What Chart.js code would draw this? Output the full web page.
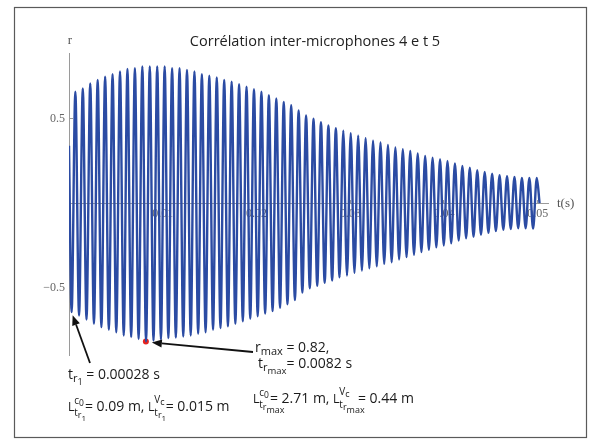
<!DOCTYPE html>
<html lang="fr">
<head>
  <meta charset="UTF-8">
  <title>Corrélation inter-microphones</title>
  <style>
    html, body { margin: 0; padding: 0; background: #fff; }
    #chartContainer { width: 598px; height: 446px; position: relative; }
  </style>
</head>
<body>
  <div id="chartContainer">
    <canvas id="corrChart"></canvas>
  </div>

  <script src="https://cdn.jsdelivr.net/npm/chart.js"></script>
  <script>
    // Values
    // signal is sampled at its extremes: first trough at t_r1, then one extreme every half period
    const tFirstTrough = 0.00028;
    const halfPeriod = 0.000397;
    const startPoint = { x: 0, y: 0.34 };
    const endPoint = { x: 0.0502, y: 0.0 };

    const troughs = [
      -0.646, -0.666, -0.69, -0.715, -0.735, -0.75, -0.765, -0.784, -0.794, -0.805,
      -0.82, -0.815, -0.808, -0.80, -0.797, -0.79, -0.784, -0.774, -0.765, -0.75,
      -0.74, -0.73, -0.715, -0.70, -0.685, -0.67, -0.655, -0.64, -0.62, -0.60,
      -0.575, -0.53, -0.505, -0.49, -0.472, -0.458, -0.44, -0.429, -0.413, -0.40,
      -0.386, -0.374, -0.36, -0.35, -0.334, -0.32, -0.306, -0.29, -0.277, -0.262,
      -0.251, -0.238, -0.222, -0.208, -0.20, -0.188, -0.176, -0.166, -0.158, -0.153,
      -0.149, -0.149, -0.15
    ];
    const peaks = [
      0.66, 0.68, 0.71, 0.73, 0.75, 0.765, 0.78, 0.795, 0.80, 0.81,
      0.81, 0.81, 0.81, 0.80, 0.80, 0.79, 0.78, 0.765, 0.755, 0.745,
      0.73, 0.72, 0.705, 0.69, 0.675, 0.66, 0.64, 0.62, 0.60, 0.58,
      0.55, 0.52, 0.50, 0.48, 0.46, 0.445, 0.43, 0.415, 0.40, 0.385,
      0.37, 0.36, 0.345, 0.33, 0.32, 0.31, 0.295, 0.28, 0.27, 0.26,
      0.25, 0.235, 0.22, 0.21, 0.195, 0.185, 0.175, 0.165, 0.16, 0.155,
      0.15, 0.15, 0.15
    ];

    const tRmax = 0.0082;
    const rMaxPoint = -0.82;

    const xTicks = [0.01, 0.02, 0.03, 0.04, 0.05];
    const xTickLabels = ['0.01', '0.02', '0.03', '0.04', '0.05'];
    const yTicks = [-0.5, 0.5];
    const yTickLabels = ['\u22120.5', '0.5'];

    const LINE_BLUE = '#2b4ba3';
    const AXIS_GREY = '#9a9a9a';
    const SANS = '"Open Sans", "Noto Sans", sans-serif';
    const SERIF = '"Liberation Serif", "DejaVu Serif", serif';

    // interleave troughs and peaks in time order
    const signal = [startPoint];
    troughs.forEach((v, i) => {
      signal.push({ x: tFirstTrough + 2 * i * halfPeriod, y: v });
      signal.push({ x: tFirstTrough + (2 * i + 1) * halfPeriod, y: peaks[i] });
    });
    signal.push(endPoint);

    // draws text with sub/superscripts, parts = {t, s, dy} or {sup:[...], sub:[...]}
    function drawRich(ctx, x, y, parts) {
      let cx = x;
      const run = (list, x0) => {
        let px = x0;
        list.forEach(p => {
          ctx.font = p.s + 'px ' + SANS;
          ctx.fillText(p.t, px, y + (p.dy || 0));
          px += ctx.measureText(p.t).width;
        });
        return px - x0;
      };
      parts.forEach(p => {
        if (p.sup || p.sub) {
          const w1 = run(p.sup, cx);
          run(p.sub, cx);
          // subscript runs on under the "=" like in the figure
          cx += w1 + 1;
        } else {
          cx += run([p], cx);
        }
      });
    }

    function arrow(ctx, x1, y1, x2, y2) {
      const a = Math.atan2(y2 - y1, x2 - x1);
      const len = 10, half = 4;
      const bx = x2 - len * Math.cos(a), by = y2 - len * Math.sin(a);
      ctx.beginPath();
      ctx.moveTo(x1, y1);
      ctx.lineTo(bx, by);
      ctx.lineWidth = 1.8;
      ctx.strokeStyle = '#111';
      ctx.stroke();
      ctx.beginPath();
      ctx.moveTo(x2, y2);
      ctx.lineTo(bx + half * Math.sin(a), by - half * Math.cos(a));
      ctx.lineTo(bx - half * Math.sin(a), by + half * Math.cos(a));
      ctx.closePath();
      ctx.fillStyle = '#111';
      ctx.fill();
    }

    const sub_tr1 = [{ t: 't', s: 10, dy: 5 }, { t: 'r', s: 9, dy: 7 }, { t: '1', s: 8, dy: 10 }];
    const sub_trmax = [{ t: 't', s: 10, dy: 5 }, { t: 'r', s: 9, dy: 7 }, { t: 'max', s: 9, dy: 10 }];
    const sup_c0 = [{ t: 'c', s: 10, dy: -7 }, { t: '0', s: 8.5, dy: -5 }];
    const sup_vc = [{ t: 'V', s: 10, dy: -8 }, { t: 'c', s: 9, dy: -6 }];

    const decorations = {
      id: 'decorations',
      beforeDraw(chart) {
        const ctx = chart.ctx;
        ctx.save();
        ctx.fillStyle = '#fff';
        ctx.fillRect(0, 0, chart.width, chart.height);
        ctx.restore();
      },
      afterDraw(chart) {
        const ctx = chart.ctx;
        const xs = chart.scales.x, ys = chart.scales.y;
        ctx.save();

        // frame
        ctx.strokeStyle = '#5a5a5a';
        ctx.lineWidth = 1.2;
        ctx.strokeRect(14.5, 7.5, 572, 430);

        // title and axis names
        ctx.fillStyle = '#222';
        ctx.textBaseline = 'alphabetic';
        ctx.textAlign = 'center';
        ctx.font = '14.5px ' + SANS;
        ctx.fillText('Corrélation inter-microphones 4 e t 5', 315, 46);
        ctx.fillStyle = '#555';
        ctx.font = '13px ' + SERIF;
        ctx.fillText('r', 70, 44);
        ctx.textAlign = 'left';
        ctx.fillText('t(s)', 557, 207);

        // arrows to the first trough and to the max point
        const p1x = xs.getPixelForValue(tFirstTrough), p1y = ys.getPixelForValue(troughs[0]);
        arrow(ctx, 90, 363, p1x + 1, p1y + 3);
        const pmx = xs.getPixelForValue(tRmax), pmy = ys.getPixelForValue(rMaxPoint);
        arrow(ctx, 253, 352, pmx + 6, pmy + 1);

        // annotations
        ctx.fillStyle = '#1a1a1a';
        ctx.textAlign = 'left';
        drawRich(ctx, 68, 379, [{ t: 't', s: 14 }, { t: 'r', s: 11, dy: 3 }, { t: '1', s: 9, dy: 6 },
          { t: ' = 0.00028 s', s: 14 }]);
        drawRich(ctx, 68, 411, [{ t: 'L', s: 12 }, { sup: sup_c0, sub: sub_tr1 }, { t: '= 0.09 m, ', s: 14 },
          { t: 'L', s: 12 }, { sup: sup_vc, sub: sub_tr1 }, { t: '= 0.015 m', s: 14 }]);
        drawRich(ctx, 255, 352, [{ t: 'r', s: 14 }, { t: 'max', s: 11, dy: 3 }, { t: ' = 0.82,', s: 14 }]);
        drawRich(ctx, 258, 368, [{ t: 't', s: 14 }, { t: 'r', s: 11, dy: 3 }, { t: 'max', s: 9.5, dy: 6 },
          { t: '= 0.0082 s', s: 14 }]);
        drawRich(ctx, 253, 403, [{ t: 'L', s: 12 }, { sup: sup_c0, sub: sub_trmax }, { t: '= 2.71 m, ', s: 14 },
          { t: 'L', s: 12 }, { sup: sup_vc, sub: sub_trmax }, { t: '  = 0.44 m', s: 14 }]);

        ctx.restore();
      }
    };

    new Chart(document.getElementById('corrChart'), {
      type: 'line',
      data: {
        datasets: [
          {
            data: signal,
            borderColor: LINE_BLUE,
            borderWidth: 2.4,
            pointRadius: 0,
            fill: false,
            cubicInterpolationMode: 'monotone'
          },
          {
            data: [{ x: tRmax, y: rMaxPoint }],
            showLine: false,
            pointRadius: 3,
            pointBorderWidth: 0,
            pointBackgroundColor: '#e8231e'
          }
        ]
      },
      options: {
        animation: false,
        responsive: true,
        maintainAspectRatio: false,
        layout: { padding: { left: 39, right: 50, top: 53, bottom: 91 } },
        plugins: {
          legend: { display: false },
          tooltip: { enabled: false }
        },
        scales: {
          x: {
            type: 'linear',
            position: { y: 0 },
            min: 0,
            max: 0.0511,
            afterFit: s => { s.height = 0; },
            afterBuildTicks: s => { s.ticks = xTicks.map(v => ({ value: v })); },
            ticks: {
              autoSkip: false,
              maxRotation: 0,
              padding: 7,
              color: '#666',
              font: { family: SERIF, size: 12 },
              callback: (v, i) => xTickLabels[i]
            },
            grid: { drawOnChartArea: false, tickLength: -4, color: AXIS_GREY },
            border: { color: AXIS_GREY, width: 1 }
          },
          y: {
            min: -0.9,
            max: 0.89,
            afterFit: s => { s.width = 30; },
            afterBuildTicks: s => { s.ticks = yTicks.map(v => ({ value: v })); },
            ticks: {
              padding: 8,
              color: '#666',
              font: { family: SERIF, size: 12 },
              callback: (v, i) => yTickLabels[i]
            },
            grid: { drawOnChartArea: false, tickLength: -4, color: AXIS_GREY },
            border: { color: AXIS_GREY, width: 1 }
          }
        }
      },
      plugins: [decorations]
    });
  </script>
</body>
</html>
